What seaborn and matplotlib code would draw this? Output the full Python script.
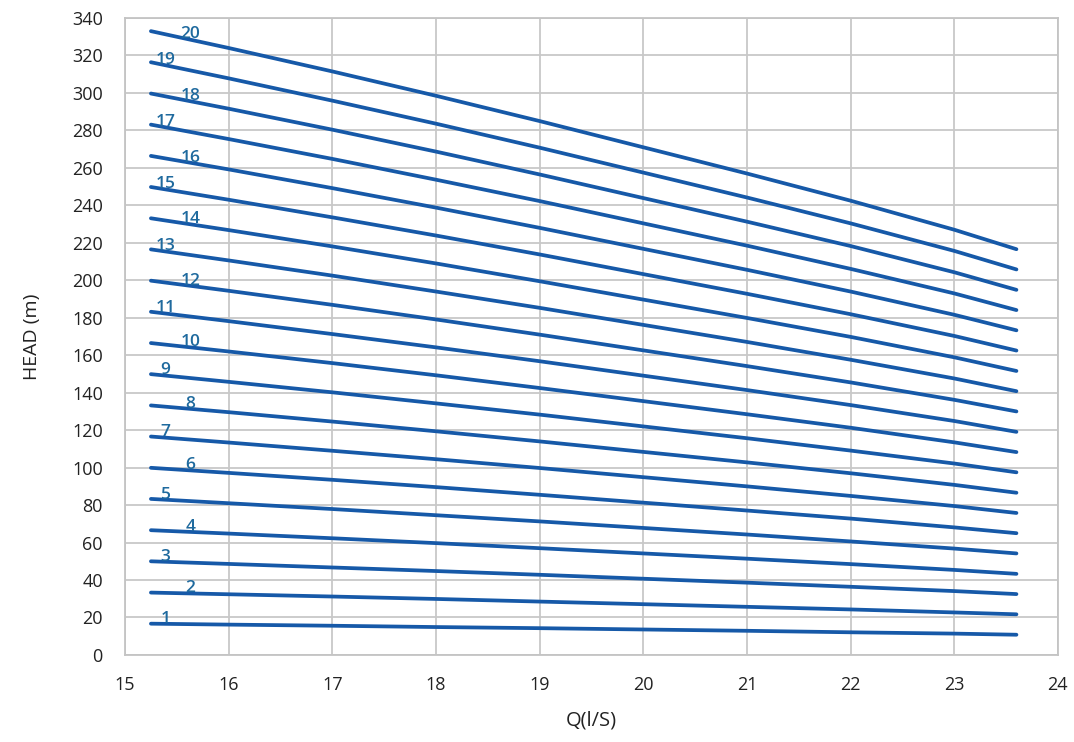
import numpy as np
import pandas as pd
import matplotlib
matplotlib.use("Agg")
import matplotlib.pyplot as plt
import seaborn as sns

flow = [15.25, 16, 17, 18, 19, 20, 21, 22, 23, 23.6]

# head (m) per number of stages
head = {
    1: [16.7, 16.2, 15.6, 14.9, 14.3, 13.6, 12.9, 12.1, 11.4, 10.8],
    2: [33.3, 32.4, 31.2, 29.9, 28.5, 27.1, 25.7, 24.3, 22.7, 21.7],
    3: [50.0, 48.6, 46.7, 44.8, 42.8, 40.7, 38.6, 36.4, 34.1, 32.5],
    4: [66.6, 64.8, 62.3, 59.7, 57.0, 54.2, 51.4, 48.5, 45.4, 43.3],
    5: [83.3, 81.0, 77.9, 74.6, 71.3, 67.8, 64.3, 60.6, 56.8, 54.2],
    6: [99.9, 97.2, 93.5, 89.6, 85.5, 81.3, 77.1, 72.8, 68.1, 65.0],
    7: [116.6, 113.4, 109.0, 104.5, 99.8, 94.9, 90.0, 84.9, 79.5, 75.8],
    8: [133.2, 129.6, 124.6, 119.4, 114.0, 108.4, 102.8, 97.0, 90.8, 86.6],
    9: [149.9, 145.8, 140.2, 134.3, 128.3, 122.0, 115.7, 109.1, 102.2, 97.5],
    10: [166.5, 162.0, 155.8, 149.3, 142.5, 135.5, 128.5, 121.3, 113.5, 108.3],
    11: [183.2, 178.2, 171.3, 164.2, 156.8, 149.1, 141.4, 133.4, 124.9, 119.1],
    12: [199.8, 194.4, 186.9, 179.1, 171.0, 162.6, 154.2, 145.5, 136.2, 130.0],
    13: [216.5, 210.6, 202.5, 194.0, 185.3, 176.2, 167.1, 157.6, 147.6, 140.8],
    14: [233.1, 226.8, 218.1, 209.0, 199.5, 189.7, 179.9, 169.8, 158.9, 151.6],
    15: [249.8, 243.0, 233.6, 223.9, 213.8, 203.3, 192.8, 181.9, 170.3, 162.5],
    16: [266.4, 259.2, 249.2, 238.8, 228.0, 216.8, 205.6, 194.0, 181.6, 173.3],
    17: [283.1, 275.4, 264.8, 253.7, 242.3, 230.4, 218.5, 206.1, 193.0, 184.1],
    18: [299.7, 291.6, 280.4, 268.7, 256.5, 243.9, 231.3, 218.3, 204.3, 194.9],
    19: [316.4, 307.8, 295.9, 283.6, 270.8, 257.5, 244.2, 230.4, 215.7, 205.8],
    20: [333.0, 324.0, 311.5, 298.5, 285.0, 271.0, 257.0, 242.5, 227.0, 216.6],
}

x_ticks = list(range(15, 25))
y_ticks = list(range(0, 341, 20))

# long form table for seaborn
rows = []
for n, h in head.items():
    for q, v in zip(flow, h):
        rows.append((n, q, v))
df = pd.DataFrame(rows, columns=["stages", "Q", "H"])

sns.set_style("white")
plt.rcParams["font.family"] = ["Open Sans", "DejaVu Sans"]

fig = plt.figure(figsize=(10.74, 7.42), dpi=100)
ax = fig.add_axes([0.1164, 0.1173, 0.8686, 0.8584])

line_col = "#1659a8"
sns.lineplot(data=df, x="Q", y="H", hue="stages", units="stages",
             estimator=None, palette=[line_col] * len(head), legend=False,
             linewidth=2.7, ax=ax, zorder=3)

# stage labels, alternating positions like the original
for n, h in head.items():
    xl = 15.39 if n % 2 else 15.63
    yl = np.interp(xl, flow, h)
    ax.text(xl, yl - 1.5, str(n), color="#1f6a9e", fontsize=12.5,
            fontweight="semibold", ha="center", va="bottom", zorder=4)

ax.set_xlim(15, 24)
ax.set_ylim(0, 340)
ax.set_xticks(x_ticks)
ax.set_yticks(y_ticks)
ax.grid(True, color="#c8c8c8", linewidth=1.3)
ax.set_axisbelow(True)
for s in ax.spines.values():
    s.set_color("#c4c4c4")
    s.set_linewidth(1.3)
ax.tick_params(axis="both", length=0, labelsize=13, colors="#222222")
ax.tick_params(axis="x", pad=15)
ax.tick_params(axis="y", pad=16)

ax.set_xlabel("Q(l/S)", fontsize=14.5, color="#222222", labelpad=12)
ax.set_ylabel("HEAD (m)", fontsize=14, color="#222222", labelpad=22)

plt.savefig("out.png", dpi=100)
